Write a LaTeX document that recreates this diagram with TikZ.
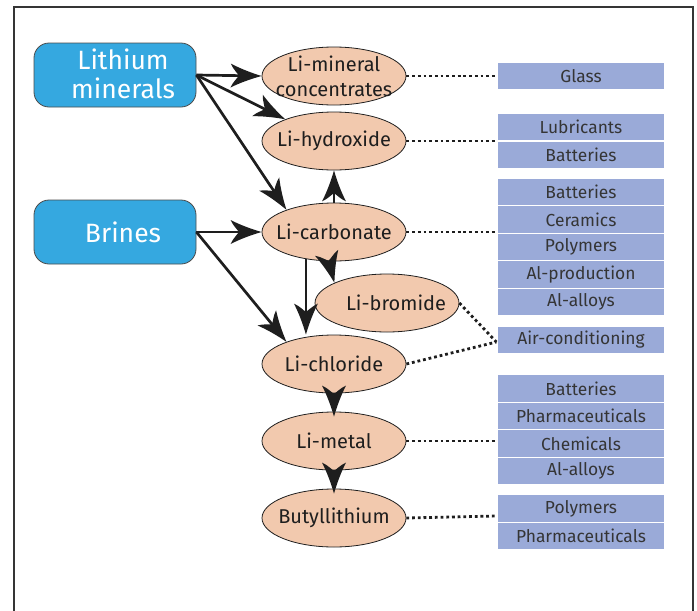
\documentclass[tikz,border=0pt]{standalone}
\usepackage{fontspec}
\setmainfont{Fira Sans}
\usetikzlibrary{arrows.meta,shapes.geometric}
\definecolor{srcblue}{HTML}{35A8E0}
\definecolor{peach}{HTML}{F2C9AE}
\definecolor{useblue}{HTML}{9AAAD8}
\definecolor{ink}{HTML}{1E1E1E}
\newdimen\myarrdim
\pgfdeclarearrow{
  name = Concave,
  defaults = {length = 30pt, width = 22pt, inset = 8pt},
  setup code = {
    \pgfarrowssettipend{0pt}
    \myarrdim=\pgfarrowinset
    \advance\myarrdim by -\pgfarrowlength
    \advance\myarrdim by 2pt
    \pgfarrowssetlineend{\myarrdim}
    \pgfarrowssavethe\pgfarrowlength
    \pgfarrowssavethe\pgfarrowwidth
    \pgfarrowssavethe\pgfarrowinset
    \pgfarrowshullpoint{0pt}{0pt}
    \pgfarrowshullpoint{-\pgfarrowlength}{0.5\pgfarrowwidth}
    \pgfarrowshullpoint{-\pgfarrowlength}{-0.5\pgfarrowwidth}
  },
  drawing code = {
    \pgfpathmoveto{\pgfpoint{0pt}{0pt}}
    \pgfpathcurveto{\pgfpoint{-0.35\pgfarrowlength}{0.13\pgfarrowwidth}}{\pgfpoint{-0.7\pgfarrowlength}{0.3\pgfarrowwidth}}{\pgfpoint{-\pgfarrowlength}{0.5\pgfarrowwidth}}
    \pgfpathcurveto{\pgfpoint{-0.92\pgfarrowlength}{0.25\pgfarrowwidth}}{\pgfpoint{-\pgfarrowlength+\pgfarrowinset}{0.06\pgfarrowwidth}}{\pgfpoint{-\pgfarrowlength+\pgfarrowinset}{0pt}}
    \pgfpathcurveto{\pgfpoint{-\pgfarrowlength+\pgfarrowinset}{-0.06\pgfarrowwidth}}{\pgfpoint{-0.92\pgfarrowlength}{-0.25\pgfarrowwidth}}{\pgfpoint{-\pgfarrowlength}{-0.5\pgfarrowwidth}}
    \pgfpathcurveto{\pgfpoint{-0.7\pgfarrowlength}{-0.3\pgfarrowwidth}}{\pgfpoint{-0.35\pgfarrowlength}{-0.13\pgfarrowwidth}}{\pgfpoint{0pt}{0pt}}
    \pgfpathclose
    \pgfusepathqfill
  }
}
\tikzset{
  ell/.style={ellipse, draw=ink, line width=0.8pt, fill=peach, minimum width=144pt, minimum height=58pt, inner sep=0pt},
  etxt/.style={font=\fontsize{20}{25}\selectfont, text=ink, align=center, inner sep=0pt},
  src/.style={draw=ink!80, line width=0.8pt, fill=srcblue, rounded corners=15pt, minimum width=162pt, minimum height=64pt},
  stxt/.style={font=\fontsize{26.5}{29}\selectfont, text=white, align=center, inner sep=0pt},
  use/.style={draw=white, line width=1.2pt, fill=useblue, minimum width=168pt, minimum height=27.5pt, inner sep=0pt, font=\fontsize{17.4}{20}\selectfont, text=ink!90},
  arr/.style={draw=ink, line width=2.7pt, -{Concave[length=31pt,width=24pt,inset=8pt]}},
  dots/.style={draw=ink, line width=2.8pt, dash pattern=on 2.8pt off 2.9pt}
}
\begin{document}
\begin{tikzpicture}[x=1pt,y=-1pt]
\useasboundingbox (0,0) rectangle (697,611);
\draw[line width=2pt, draw=ink!90] (14,615) -- (14,7) -- (693,7) -- (693,615);

% sources
\node[src] (lm) at (115,75) {};
\node[stxt] (lmT) at (123,74) {Lithium\\minerals};
\node[src] (br) at (115,232) {};
\node[stxt] (brT) at (123,232) {Brines};

% products
\node[ell] (min) at (334,76) {};
\node[etxt] (minT) at (min) {Li-mineral\\concentrates};
\node[ell] (hyd) at (334,141) {};
\node[etxt] (hydT) at (hyd) {Li-hydroxide};
\node[ell] (carb) at (334,232) {};
\node[etxt] (carbT) at (carb) {Li-carbonate};
\node[ell] (brom) at (387,303) {};
\node[etxt] (bromT) at (396,303) {Li-bromide};
\node[ell] (chl) at (334,364) {};
\node[etxt] (chlT) at (chl) {Li-chloride};
\node[ell] (met) at (334,441) {};
\node[etxt] (metT) at (met) {Li-metal};
\node[ell] (but) at (334,518) {};
\node[etxt] (butT) at (but) {Butyllithium};

% uses
\node[use] (glass) at (581,76) {Glass};
\node[use] (lub) at (581,127.25) {Lubricants};
\node[use] (bat1) at (581,154.75) {Batteries};
\node[use] (bat2) at (581,192) {Batteries};
\node[use] (cer) at (581,219.5) {Ceramics};
\node[use] (pol1) at (581,247) {Polymers};
\node[use] (alp) at (581,274.5) {Al-production};
\node[use] (all1) at (581,302) {Al-alloys};
\node[use] (air) at (581,340) {Air-conditioning};
\node[use] (bat3) at (581,388.5) {Batteries};
\node[use] (ph1) at (581,416) {Pharmaceuticals};
\node[use] (chem) at (581,443.5) {Chemicals};
\node[use] (all2) at (581,471) {Al-alloys};
\node[use] (pol2) at (581,508.5) {Polymers};
\node[use] (ph2) at (581,536) {Pharmaceuticals};

% arrows
\draw[arr] (lm.east) -- (min.west);
\draw[arr] (lm.east) -- (hyd.156);
\draw[arr] (lm.east) -- (carb.155);
\draw[arr] (br.east) -- (carb.west);
\draw[arr] (br.east) -- (chl.155);
\draw[arr] (carb.north) -- (hyd.south);
\draw[arr] (carb.-100) -- (brom.159);
\draw[arr] (carb.-136) -- (carb.-136 |- chl.north);
\draw[arr] (chl.south) -- ([yshift=-5pt]met.north);
\draw[arr] (met.south) -- ([yshift=-5pt]but.north);

% dotted links
\draw[dots] (min.east) -- (min.east -| glass.west);
\draw[dots] (hyd.east) -- (hyd.east -| lub.west);
\draw[dots] (carb.east) -- (carb.east -| cer.west);
\draw[dots] (brom.east) -- ([yshift=-2pt]air.west);
\draw[dots] (chl.east) -- ([yshift=-2pt]air.west);
\draw[dots] (met.east) -- (met.east -| chem.west);
\draw[dots] (but.east) -- ([yshift=2pt]but.east -| pol2.west);
\end{tikzpicture}
\end{document}
